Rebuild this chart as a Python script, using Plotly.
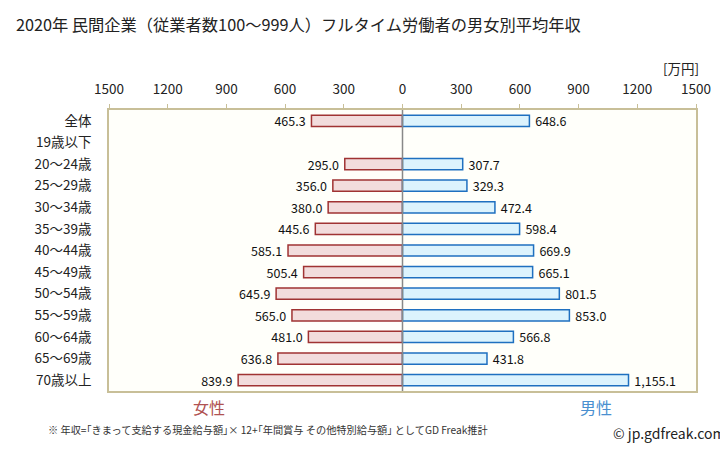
import plotly.graph_objects as go

categories = ["全体", "19歳以下", "20～24歳", "25～29歳", "30～34歳", "35～39歳", "40～44歳",
              "45～49歳", "50～54歳", "55～59歳", "60～64歳", "65～69歳", "70歳以上"]
female = [465.3, None, 295.0, 356.0, 380.0, 445.6, 585.1, 505.4, 645.9, 565.0, 481.0, 636.8, 839.9]
male = [648.6, None, 307.7, 329.3, 472.4, 598.4, 669.9, 665.1, 801.5, 853.0, 566.8, 431.8, 1155.1]
tick_vals = [-1500, -1200, -900, -600, -300, 0, 300, 600, 900, 1200, 1500]
tick_text = ["1500", "1200", "900", "600", "300", "0", "300", "600", "900", "1200", "1500"]

FONT = "Noto Sans CJK JP"
NB = "\u00a0"

def fmt(v):
    return "" if v is None else f"{v:,.1f}"

fig = go.Figure()
fig.add_trace(go.Bar(
    y=categories, x=[None if v is None else -v for v in female], orientation="h",
    marker=dict(color="#f2dcdc", line=dict(color="#a03333", width=1.5)),
    text=[fmt(v) + NB if v is not None else "" for v in female], textposition="outside",
    constraintext="none",
    textfont=dict(size=12.5, color="#111", family=FONT), cliponaxis=False,
    width=0.52, hoverinfo="skip",
))
fig.add_trace(go.Bar(
    y=categories, x=male, orientation="h",
    marker=dict(color="#dcf3fd", line=dict(color="#1f70c0", width=1.5)),
    text=[NB + fmt(v) if v is not None else "" for v in male], textposition="outside",
    constraintext="none",
    textfont=dict(size=12.5, color="#111", family=FONT), cliponaxis=False,
    width=0.52, hoverinfo="skip",
))

fig.add_shape(type="line", xref="x", yref="paper", x0=0, x1=0, y0=0, y1=1,
              line=dict(color="#888888", width=1.5))

fig.update_layout(
    width=720, height=443, barmode="overlay", showlegend=False,
    paper_bgcolor="white", plot_bgcolor="#fffffa",
    margin=dict(l=101, r=32, t=102, b=60, autoexpand=False),
    font=dict(family=FONT, color="#333"),
    title=dict(text="2020年 民間企業（従業者数100～999人）フルタイム労働者の男女別平均年収",
               x=0.011, xanchor="left", y=0.962, yanchor="middle",
               font=dict(size=16.25, color="#222", family=FONT)),
    xaxis=dict(range=[-1500, 1500], side="top", tickvals=tick_vals, ticktext=tick_text,
               ticks="outside", ticklen=4, tickcolor="#c8bf98", showgrid=False, zeroline=False,
               showline=True, linecolor="#c8bf98", linewidth=1.5, mirror=True,
               ticklabelstandoff=5,
               tickfont=dict(size=13.5, color="#222"), automargin=False, fixedrange=True),
    yaxis=dict(autorange="reversed", showgrid=False, zeroline=False,
               showline=True, linecolor="#c8bf98", linewidth=1.5, mirror=True,
               ticks="", ticklabelstandoff=13, automargin=False,
               tickfont=dict(size=13.5, color="#222")),
    annotations=[
        dict(text="[万円]", xref="paper", yref="paper", x=1.008, y=1.0, yshift=42,
             xanchor="right", yanchor="middle", showarrow=False,
             font=dict(size=13.5, color="#222")),
        dict(text="女性", xref="x", yref="paper", x=-989, y=0, yshift=-16,
             xanchor="center", yanchor="middle", showarrow=False,
             font=dict(size=16, color="#b05252")),
        dict(text="男性", xref="x", yref="paper", x=991, y=0, yshift=-16,
             xanchor="center", yanchor="middle", showarrow=False,
             font=dict(size=16, color="#4a90d0")),
        dict(text="※ 年収=｢きまって支給する現金給与額｣× 12+｢年間賞与 その他特別給与額｣ としてGD Freak推計",
             xref="paper", yref="paper", x=-0.107, y=0, yshift=-38,
             xanchor="left", yanchor="middle", showarrow=False,
             font=dict(size=10.2, color="#333")),
        dict(text="© jp.gdfreak.com", xref="paper", yref="paper", x=0.855, y=0, yshift=-42,
             xanchor="left", yanchor="middle", showarrow=False,
             font=dict(size=14, color="#222")),
    ],
)

fig.write_html("out.html")
